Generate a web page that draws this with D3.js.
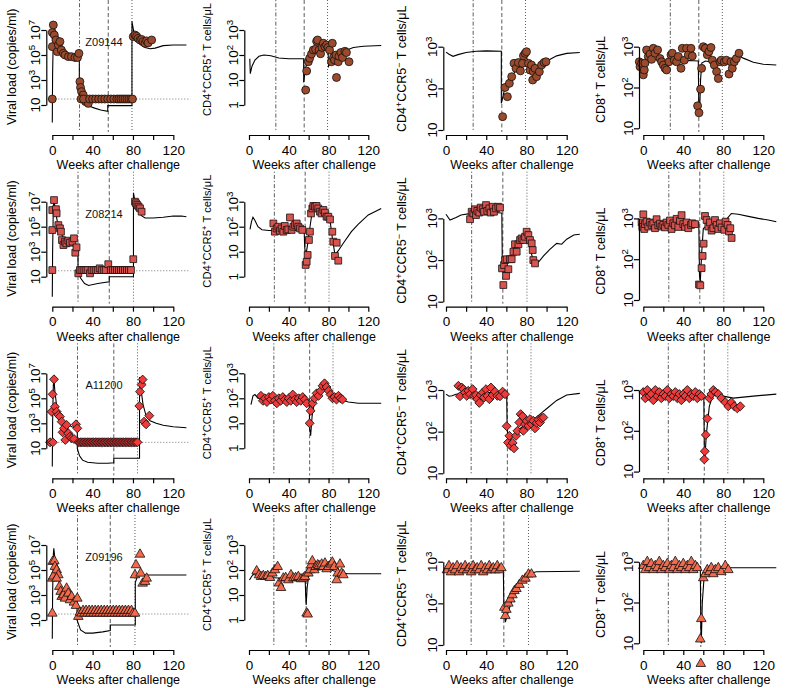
<!DOCTYPE html>
<html><head><meta charset="utf-8">
<script src="https://cdn.jsdelivr.net/npm/d3@7"></script>
<style>body{margin:0;background:#fff} svg{display:block} text{font-family:"Liberation Sans",Arial,Helvetica,sans-serif}</style>
</head><body><svg id="c" width="787" height="688"></svg>
<script>
// ---------- DATA (weeks after challenge, log10 value) ----------
const animals = ["Z09144","Z08214","A11200","Z09196"];
const eventWeeks = [[27,55.5,79],[25.5,56.5,80.5],[25,61,84.5],[25,57.5,82]];
const detectionLimit = 30; // copies/ml

const vlZ09144 = [[0,6.8],[1,7.4],[2,6.6],[0,5.67],[3.6,6.2],[5,5.27],[6,5.8],[7.6,6.07],[9,5.4],[11,5.13],[12.6,5.0],[16,4.87],[19,4.87],[22.5,4.8],[25,4.8],[26.4,5.13],[0,1.48],
 [27.4,2.87],[28,2.4],[29,2.07],[30.7,1.8],[33,1.27],[35.7,1.13],[28.5,1.48],[31,1.48],[37,1.48],[40,1.48],[43,1.48],[46,1.48],[49,1.48],[52,1.48],[55,1.48],[58,1.48],[61,1.48],[64,1.48],[66,1.48],[68,1.48],[70,1.48],[72,1.48],[74,1.48],[76,1.48],[78,1.48],[79.5,1.48],
 [80.3,6.47],[82,6.6],[83.6,6.5],[85,6.33],[87,6.2],[88.6,6.25],[90,6.07],[92,5.93],[93.5,6.13],[95,5.97],[98.5,6.2]];
const vlZ09144Fit = [[0,-0.4],[0.3,3.5],[1,6.5],[1.8,7.3],[3,6.6],[5,5.8],[8,5.2],[12,4.95],[18,4.85],[26.8,4.75],[26.8,3.0],[28,2.2],[30,1.6],[33,1.2],[37,0.9],[42,0.75],[48,0.6],[55,0.5],[55,0.95],[79,0.95],[79,7.7],[80.5,7.0],[83,6.3],[87,5.85],[92,5.6],[97,5.5],[102,5.55],[110,5.75],[120,5.8],[133,5.8]];
const r5pZ09144 = [[57,0.6],[58,1.36],[59.7,1.73],[61,1.87],[62.9,2.04],[64.7,2.2],[67,2.23],[68,2.55],[69,2.6],[70.5,2.2],[72,2.05],[73.5,2.3],[74.8,2.47],[76.4,2.33],[78,2.4],[79.5,2.3],[81,2.2],[83.8,2.47],[83,1.73],[85,1.9],[86,1.8],[87.6,2.0],[88,1.1],[89.8,1.73],[90.5,1.95],[92.5,2.1],[94,1.9],[96.5,2.15],[98,2.1],[100.6,1.73]];
const r5pZ09144Fit = [[0.8,1.85],[1.3,1.25],[3,1.55],[6,1.8],[10,1.95],[15,2.0],[22,1.97],[30,1.88],[40,1.85],[55,1.85],[55,0.9],[57,1.5],[60,1.9],[64,2.15],[70,2.28],[76,2.32],[79.5,2.25],[80,1.55],[83,1.75],[88,1.95],[95,2.15],[105,2.3],[115,2.35],[133,2.38]];
const r5nZ09144 = [[56.3,1.32],[58.7,2.02],[61,1.8],[63,2.12],[65.3,2.28],[67.6,2.6],[69.6,2.48],[72,2.62],[74,2.42],[76,2.6],[77,2.78],[78.6,2.84],[80,2.88],[82,2.6],[83.5,2.44],[85,2.56],[86.8,2.4],[86.2,2.2],[88.5,2.48],[90,2.28],[92.8,2.4],[95,2.56],[97.5,2.62],[99.4,2.64]];
const r5nZ09144Fit = [[0,2.87],[3,2.82],[7,2.77],[12,2.81],[20,2.86],[30,2.89],[40,2.9],[55,2.89],[55,1.64],[58,1.95],[62,2.2],[67,2.35],[72,2.5],[77,2.68],[80,2.75],[83,2.55],[87,2.45],[92,2.5],[100,2.65],[110,2.78],[120,2.84],[133,2.86]];
const cd8Z09144 = [[-4,2.63],[-3.3,2.51],[-1.7,2.59],[0,2.31],[1,2.43],[1.7,2.6],[3.3,2.92],[5,2.76],[6.7,2.82],[8.3,2.69],[10,2.96],[11.7,2.84],[14.3,2.92],[16.7,2.71],[18.3,2.63],[20,2.55],[21.7,2.47],[23.3,2.43],[25.7,2.63],[27.7,2.8],[29,2.84],[31,2.67],[33.3,2.63],[35,2.76],[37.7,2.47],[39,2.96],[41,2.67],[43.3,2.96],[45,2.8],[47.7,2.96],[49,2.77],
 [54.3,1.55],[55.7,1.38],[57.3,1.96],[58.3,2.47],[60,3.0],[62,2.96],[64,2.8],[65.7,2.88],[67.7,2.98],[69,2.67],[71,2.55],[73.3,2.39],[75,2.22],[76.7,2.63],[78,2.67],[81,2.63],[83,2.67],[85.7,2.33],[87.7,2.63],[89,2.47],[91,2.63],[93,2.71],[95.7,2.84]];
const cd8Z09144Fit = [[-5,2.63],[0,2.65],[10,2.7],[20,2.65],[30,2.65],[45,2.66],[55,2.65],[55.5,1.5],[56.3,1.37],[57.3,2.2],[58.5,2.6],[62,2.65],[70,2.62],[80,2.63],[88,2.7],[95,2.78],[100,2.72],[110,2.62],[120,2.57],[133,2.55]];

const vlZ08214 = [[1.7,7.13],[0,6.33],[3.6,6.4],[4.3,6.07],[0,4.73],[0,1.53],[6,5.13],[7.6,4.87],[8.6,4.6],[9.6,3.93],[11,3.53],[12.6,3.8],[14,3.67],[15.9,3.88],[17.5,3.72],[20,3.8],[21.5,4.07],[22.8,2.92],[24,3.35],[25.8,1.27],[27.4,1.53],[29,1.53],[31,1.53],[33,1.53],[35,1.53],[37.4,1.27],[39,1.53],[41,1.53],[43,1.53],[45,1.53],[47,1.67],[49,1.53],[51,1.53],[53,1.53],[55.5,2.0],[58,1.53],[60,1.53],[62,1.53],[64,1.53],[66,1.53],[68,1.53],[70,1.53],[72,1.53],[74,1.53],[76,1.53],[78,1.53],[80.3,2.4],[82,7.0],[83,6.87],[84.3,6.73],[85.6,6.6],[87,6.47],[88.6,6.2]];
const vlZ08214Fit = [[0,-0.6],[0.3,3],[1,6.5],[1.7,7.2],[3,6.3],[5,5.4],[8,4.6],[11,4.1],[15,3.8],[20,3.5],[25.5,3.0],[25.5,1.5],[28,0.9],[32,0.45],[36,0.3],[45,0.45],[56.5,0.6],[56.5,1.0],[80.5,1.0],[80.5,7.7],[82,7.0],[85,6.3],[88,5.9],[92,5.7],[100,5.7],[110,5.75],[120,5.85],[128,5.85],[133,5.8]];
const r5pZ08214 = [[24.5,2.13],[26,1.8],[27.8,1.93],[29.5,2.0],[31,1.84],[32.8,1.93],[34.5,1.8],[36,2.03],[37.9,1.87],[39.5,1.89],[41.2,2.37],[42.9,1.87],[44.6,2.0],[46.3,2.07],[48,2.13],[49.6,2.0],[51.3,1.93],[53.6,1.87],
 [57,0.47],[58,0.6],[59,0.87],[60.3,1.47],[61.3,1.8],[62.4,2.53],[63.7,2.73],[64.7,2.83],[66.4,2.8],[68,2.83],[69.7,2.73],[71.4,2.6],[73,2.53],[74.8,2.67],[76.4,2.56],[78,2.4],[79.8,2.4],[81.5,2.29],[83.8,1.8],[84.8,1.4],[86.5,0.83],[88.2,1.36],[89.8,0.64]];
const r5pZ08214Fit = [[1,1.89],[2.5,2.2],[4,2.38],[6,2.25],[9,2.0],[13,1.88],[20,1.85],[30,1.85],[45,1.86],[55.5,1.85],[56,1.2],[57,0.8],[59,1.3],[61,1.9],[63,2.45],[66,2.75],[70,2.8],[75,2.7],[80,2.5],[82,2.1],[84,1.5],[86.5,0.87],[90,1.05],[95,1.35],[103,1.8],[110,2.1],[120,2.47],[133,2.73]];
const r5nZ08214 = [[23.9,2.98],[25.5,3.16],[27.2,3.12],[28.8,3.22],[29.8,3.08],[31.2,3.18],[33.1,3.14],[34.5,3.26],[36.5,3.22],[37.8,3.16],[39.8,3.32],[41.1,3.18],[43.1,3.24],[44.4,3.14],[46.4,3.28],[47.7,3.16],[49.7,3.24],[52,3.28],[53.7,3.26],
 [55.7,1.8],[57,1.4],[57.7,1.88],[58.7,2.0],[59.7,1.62],[60.3,2.02],[62,1.78],[63.6,2.02],[65.3,2.02],[67,2.2],[68.6,2.38],[70.3,2.2],[72,2.38],[73.6,2.48],[75.2,2.52],[77,2.48],[78.6,2.56],[80.2,2.68],[81.9,2.6],[83.5,2.48],[85.2,2.4],[86.2,2.24],[86.8,2.0],[88.5,1.92]];
const r5nZ08214Fit = [[0,3.1],[4,2.96],[10,3.02],[15,3.08],[25,3.12],[35,3.14],[45,3.14],[55.5,3.13],[56,1.85],[57.5,1.6],[59,1.75],[61,1.95],[64,2.05],[68,2.3],[74,2.45],[80,2.6],[83,2.35],[86,2.05],[88,1.92],[92,1.95],[97,2.1],[103,2.25],[110,2.4],[115,2.38],[120,2.5],[127,2.6],[133,2.62]];
const cd8Z08214 = [[-1.7,2.9],[-1,2.79],[0,3.1],[1,2.74],[1.7,2.86],[3.3,2.92],[5,2.8],[6.7,2.9],[8.3,2.84],[10,2.88],[11.7,2.76],[13.3,2.98],[15,2.83],[16.7,2.87],[18.3,2.8],[20,2.84],[21.7,2.78],[23.3,2.9],[25,2.84],[26.7,2.95],[28.3,2.74],[30,2.88],[31.7,2.83],[33.3,2.99],[35,2.79],[36.7,2.94],[38.3,3.08],[40,2.86],[41.7,2.79],[43.3,2.9],[45,2.76],[47.7,2.84],[49,2.88],[51.7,2.86],
 [55.7,1.38],[57,1.36],[58.3,1.78],[59.3,2.08],[60.3,2.38],[61.7,3.06],[63.3,2.96],[65,2.8],[66.7,2.9],[68.3,2.7],[70,2.76],[71.7,2.96],[73.3,2.84],[75,2.74],[76.7,2.88],[78.3,2.78],[81,2.72],[82.3,2.92],[84.3,2.84],[85.7,2.68],[87,2.76],[88.3,2.52]];
const cd8Z08214Fit = [[-5.5,1.0],[-5,2.92],[0,2.92],[10,2.93],[20,2.92],[30,2.9],[45,2.9],[55.5,2.9],[56.2,1.6],[57,1.44],[58.5,2.2],[60,2.75],[65,2.85],[75,2.85],[80,2.85],[84,3.0],[88,3.12],[95,3.1],[105,3.05],[115,3.0],[125,2.96],[133,2.92]];

const vlA11200 = [[1.7,6.52],[0.3,5.32],[-0.7,3.93],[-2.3,1.48],[0.5,1.48],[2.6,4.33],[4.3,3.93],[6,3.67],[7.6,3.53],[9.3,3.13],[10.2,2.28],[11.6,2.6],[12.9,1.67],[14.2,2.87],[15.9,2.2],[17.5,1.93],[19.2,1.8],[21.5,1.75],[23.5,2.92],[24.8,2.6],
 [26,1.48],[27.5,1.48],[29,1.48],[30.5,1.48],[32,1.48],[33.5,1.48],[35,1.48],[36.5,1.48],[38,1.48],[39.5,1.48],[41,1.48],[42.5,1.48],[44,1.48],[45.5,1.48],[47,1.48],[48.5,1.48],[50,1.48],[51.5,1.48],[53,1.48],[54.5,1.48],[56,1.48],[57.5,1.48],[59,1.48],[60.5,1.48],[62,1.48],[63.5,1.48],[65,1.48],[66.5,1.48],[68,1.48],[69.5,1.48],[71,1.48],[72.5,1.48],[74,1.48],[75.5,1.48],[77,1.48],[78.5,1.48],[80,1.48],[81.5,1.48],[83,1.48],[84.5,1.48],
 [86.3,4.39],[87,5.53],[88.6,6.1],[89.6,6.5],[91,3.13],[93,2.92],[96.2,3.61]];
const vlA11200Fit = [[0,-0.45],[0.3,3],[1,6.0],[1.6,6.6],[2.5,5.6],[4,4.6],[6,3.9],[10,3.3],[15,2.9],[20,2.7],[24.8,2.6],[24.8,1.0],[27,0.4],[30,0.05],[35,-0.12],[45,-0.2],[55,-0.2],[61,-0.15],[61,0.2],[86.5,0.2],[86.5,6.7],[87.5,6.0],[90,4.5],[93,3.6],[97,3.2],[103,3.0],[110,2.85],[120,2.73],[133,2.65]];
const r5pA11200 = [[12,2.1],[14,1.9],[16,2.0],[18,1.85],[20,2.05],[22,1.95],[24,2.1],[26,1.9],[28,1.8],[30,2.0],[32,1.9],[34,2.05],[36,1.95],[38,1.85],[40,2.0],[42,1.9],[44,2.15],[46,1.95],[48,1.85],[50,2.0],[52,1.9],[54,2.05],[56,1.95],[58,1.8],
 [61,1.0],[62,1.5],[64,1.8],[66,2.0],[68,2.2],[70,2.1],[72,2.3],[74,2.5],[76,2.6],[78,2.45],[80,2.3],[82,2.15],[84,2.0],[86,2.05],[88,1.95],[90,2.1],[92,2.0],[94,1.95]];
const r5pA11200Fit = [[2,1.75],[4,2.1],[6,2.15],[9,2.0],[15,1.95],[30,1.95],[50,1.95],[60.5,1.95],[61,0.8],[62,0.5],[63.5,1.3],[66,1.9],[70,2.2],[75,2.45],[78,2.55],[82,2.3],[86,2.1],[92,1.95],[100,1.85],[110,1.8],[133,1.8]];
const r5nA11200 = [[12.3,3.1],[13.9,2.85],[15.6,3.06],[17.2,3.02],[18.9,2.94],[20.6,2.86],[22.2,2.98],[23.9,2.9],[26.5,3.02],[27.8,2.86],[29.8,2.88],[31.2,2.78],[33.1,2.69],[34.5,2.88],[36.5,2.94],[37.8,2.82],[39.8,3.02],[41.1,2.86],[43.1,2.78],[44.7,3.06],[46.4,2.88],[48.7,2.96],[51,2.86],[53.7,2.85],[56.3,2.96],[58.7,2.9],
 [60.3,2.13],[61.7,1.74],[63,1.9],[64.3,1.66],[66.3,1.73],[67.6,1.6],[69.6,1.9],[71,2.02],[72.9,2.22],[74.2,2.42],[76.2,2.37],[76.9,2.02],[78.6,2.18],[80.2,2.26],[81.9,2.14],[83.5,2.3],[85.2,2.18],[86.8,2.26],[88.5,2.08],[90.2,2.21],[91.8,2.29],[93.5,2.22],[95.1,2.32],[96.8,2.34]];
const r5nA11200Fit = [[0,2.9],[3,2.85],[6,2.86],[10,2.9],[20,2.93],[40,2.94],[60.3,2.94],[60.8,2.1],[62,1.75],[65,1.85],[70,2.0],[75,2.1],[80,2.2],[85,2.25],[90,2.35],[95,2.45],[100,2.55],[110,2.75],[120,2.88],[133,2.92]];
const cd8A11200 = [[0,2.95],[2,2.8],[4,3.0],[6,2.85],[8,2.9],[10,2.75],[12,3.0],[14,2.85],[16,2.95],[18,2.8],[20,2.9],[22,2.85],[24,3.0],[26,2.8],[28,2.9],[30,2.85],[32,2.95],[34,2.8],[36,2.9],[38,2.75],[40,2.9],[42,2.85],[44,3.0],[46,2.8],[48,2.9],[50,2.85],[52,2.95],[54,2.8],[56,2.9],[58,2.85],
 [61,1.3],[61.5,1.5],[62.5,1.9],[64,2.3],[66,2.8],[68,2.9],[70,3.0],[72,2.95],[75,2.9],[78,2.8],[82,2.7],[85,2.6],[88,2.7],[91,2.6],[94,2.55],[97,2.6]];
const cd8A11200Fit = [[0,2.9],[20,2.9],[40,2.88],[60.5,2.88],[61,1.6],[61.5,1.3],[63,1.9],[66,2.6],[70,2.9],[75,2.95],[80,2.85],[90,2.8],[110,2.85],[133,2.9]];

const vlZ09196 = [[0.3,5.67],[2,5.72],[0,4.33],[0,1.53],[1,4.5],[2.6,5.27],[4.3,5.0],[6,4.6],[4.3,4.33],[7,3.67],[8.3,3.27],[9.3,2.87],[11,3.0],[12.6,2.73],[14.2,3.53],[15.9,3.13],[17.5,2.6],[19.2,2.87],[21.5,2.41],[23.5,2.15],[24.8,2.73],[25.8,1.27],[27.4,1.61],
 [29,1.53],[30.5,1.75],[32,1.53],[33.5,1.75],[35,1.53],[36.5,1.75],[38,1.53],[39.5,1.75],[41,1.53],[42.5,1.75],[44,1.53],[45.5,1.75],[47,1.53],[48.5,1.75],[50,1.53],[51.5,1.75],[53,1.53],[54.5,1.75],[56,1.53],[57.5,1.75],[59,1.53],[60.5,1.75],[62,1.53],[63.5,1.75],[65,1.53],[66.5,1.75],[68,1.53],[69.5,1.75],[71,1.53],[72.5,1.75],[74,1.53],[75.5,1.75],[77,1.53],[78.5,1.75],[80,1.53],
 [82,1.53],[82,4.6],[83,5.4],[87,6.25],[87.6,4.73],[89.6,3.93],[92,4.07],[93.6,4.33]];
const vlZ09196Fit = [[0,-0.5],[0.3,3],[1,6.2],[1.5,6.73],[2.5,6.0],[4,5.2],[7,4.0],[10,3.2],[15,2.8],[20,2.5],[24.5,2.3],[24.5,1.0],[28,0.2],[33,-0.05],[40,-0.05],[50,0.05],[57.5,0.15],[57.5,0.6],[82.3,0.6],[82.3,4.0],[84,4.4],[86,4.55],[90,4.6],[133,4.6]];
const r5pZ09196 = [[7.7,1.96],[10.1,1.8],[12.1,1.73],[14.4,1.77],[16.8,1.73],[18.8,1.77],[21.1,1.69],[23.5,1.87],[26.1,2.0],[28.8,2.13],[30.2,1.47],[32.2,1.29],[34.5,1.67],[36.9,1.69],[39.6,1.6],[42.2,1.8],[44.6,1.67],[46.9,1.69],[49.6,1.73],[52.3,1.64],[54.6,1.67],[56.3,1.73],
 [58,0.27],[59,0.23],[59.7,1.87],[61.3,2.0],[62.4,2.2],[63.7,2.36],[65.7,2.0],[67,2.13],[69.1,2.2],[70.4,2.17],[73.1,2.23],[74.8,2.13],[76.4,2.27],[78.1,2.04],[79.8,2.13],[82.5,2.23],[83.8,2.31],[85.8,2.13],[88.2,1.6],[89.2,1.87],[91.5,2.23],[93.2,1.87],[94.9,1.8]];
const r5pZ09196Fit = [[0.5,1.6],[2,1.7],[4,1.82],[7,1.8],[12,1.74],[20,1.7],[30,1.68],[45,1.65],[56.5,1.65],[57,1.0],[57.5,0.6],[58.5,1.3],[60,1.75],[63,1.9],[70,2.0],[80,2.05],[85,1.97],[92,1.88],[100,1.85],[133,1.85]];
const r5nZ09196 = [[1,2.8],[3,2.9],[5,2.75],[7,2.85],[9,2.8],[11,2.9],[13,2.75],[15,2.85],[17,2.8],[19,2.9],[21,2.8],[23,2.85],[25,2.75],[27,2.9],[29,2.8],[31,2.85],[33,2.8],[35,2.9],[37,2.75],[39,2.85],[41,2.8],[43,2.9],[45,2.8],[47,2.85],[49,2.8],[51,2.9],[53,2.8],[55,2.85],
 [58,1.9],[59,1.7],[60,1.85],[62,2.0],[64,2.1],[66,2.2],[68,2.3],[70,2.35],[73,2.45],[76,2.55],[79,2.6],[82,2.7],[85,2.7]];
const r5nZ09196Fit = [[0,2.8],[20,2.8],[40,2.82],[57,2.82],[57.5,2.0],[59,1.55],[62,1.8],[66,2.1],[70,2.3],[75,2.5],[80,2.65],[85,2.73],[90,2.76],[133,2.77]];
const cd8Z09196 = [[0,2.9],[2,2.8],[4,3.0],[6,2.85],[8,2.95],[10,2.8],[12,2.9],[14,2.85],[16,3.0],[18,2.8],[20,2.9],[22,2.85],[24,2.95],[26,2.8],[28,2.9],[30,2.85],[32,3.0],[34,2.8],[36,2.9],[38,2.85],[40,2.95],[42,2.8],[44,2.9],[46,2.85],[48,3.0],[50,2.8],[52,2.9],[54,2.85],
 [57,1.1],[57.5,0.5],[58,1.6],[60,2.6],[62,2.7],[64,2.8],[66,2.75],[68,2.85],[70,2.7],[72,2.8],[75,2.85],[78,2.75],[82,2.9],[85,2.8]];
const cd8Z09196Fit = [[0,2.9],[30,2.88],[57,2.88],[57.5,1.4],[58,1.0],[59,2.0],[61,2.7],[65,2.82],[75,2.85],[90,2.85],[133,2.85]];

// tick labels
const vlTicks = [1,3,5,7];       // exponents
const r5pTicks = [0,1,2,3];
const r5nTicks = [1,2,3];
const cd8Ticks = [1,2,3];
const xTicks = [0,20,40,60,80,100,120];
const xTickLabels = [0,40,80,120];
const xTitle = "Weeks after challenge";

// ---------- LAYOUT / STYLE ----------
const rowY = [0,171.7,343.3,515];
const rowColors = ["#9C4A2C","#D9534F","#EE3B3B","#F36B4C"];
const rowShapes = ["circle","square","diamond","triangle"];
const eventDash = ["1.2,2,4,2","4,2.5","1,2"];

const cols = [
  {x0:52.3, x120:173.3, axOff:6,   dom:[1e1,1e7], rng:[105,30],   ticks:vlTicks,
   title:[["Viral load (copies/ml)",0]], tx:16, ty:125, tfs:12.5},
  {x0:249,  x120:368.3, axOff:4.7, dom:[1,1e3],   rng:[105,30],   ticks:r5pTicks,
   title:[["CD4",0],["+",1],["CCR5",0],["+",1],[" T cells/\u03BCL",0]], tx:211, ty:116, tfs:11.2},
  {x0:446,  x120:566.7, axOff:2.7, dom:[10,1e3],  rng:[130,46.7], ticks:r5nTicks,
   title:[["CD4",0],["+",1],["CCR5",0],["\u2212",1],[" T cells/\u03BCL",0]], tx:406, ty:132, tfs:12.5},
  {x0:643.3,x120:763.3, axOff:4.3, dom:[10,1e3],  rng:[128.3,46.7], ticks:cd8Ticks,
   title:[["CD8",0],["+",1],[" T cells/\u03BCL",0]], tx:605, ty:123, tfs:12.5}
];

const panels = [
  [[vlZ09144,vlZ09144Fit],[r5pZ09144,r5pZ09144Fit],[r5nZ09144,r5nZ09144Fit],[cd8Z09144,cd8Z09144Fit]],
  [[vlZ08214,vlZ08214Fit],[r5pZ08214,r5pZ08214Fit],[r5nZ08214,r5nZ08214Fit],[cd8Z08214,cd8Z08214Fit]],
  [[vlA11200,vlA11200Fit],[r5pA11200,r5pA11200Fit],[r5nA11200,r5nA11200Fit],[cd8A11200,cd8A11200Fit]],
  [[vlZ09196,vlZ09196Fit],[r5pZ09196,r5pZ09196Fit],[r5nZ09196,r5nZ09196Fit],[cd8Z09196,cd8Z09196Fit]]
];

const svg = d3.select("#c");
const defs = svg.append("defs");
const FS = 12.5, TFS = 13.5;

function richText(sel, parts, shift, base){
  let up=false;
  parts.forEach(([t,s])=>{
    const ts = sel.append("tspan").text(t);
    if(s){ ts.attr("font-size",(base*0.72)+"px").attr("dy", up?0:-shift); up=true; }
    else { ts.attr("dy", up?shift:0); up=false; }
  });
}
function symbolFor(shape){
  if(shape==="circle") return d3.symbol(d3.symbolCircle,50)();
  if(shape==="square") return d3.symbol(d3.symbolSquare,46)();
  if(shape==="diamond") return d3.symbol(d3.symbolSquare,40)();
  return d3.symbol(d3.symbolTriangle,40)();
}

panels.forEach((row,r)=>{
  row.forEach(([obs,fit],c)=>{
    const cfg = cols[c];
    const g = svg.append("g").attr("transform",`translate(0,${rowY[r]})`);
    const x = d3.scaleLinear().domain([0,120]).range([cfg.x0,cfg.x120]);
    const y = d3.scaleLog().domain(cfg.dom).range(cfg.rng);
    const left = cfg.x0 - cfg.axOff, right = x(137);
    const cid = `clip${r}${c}`;
    defs.append("clipPath").attr("id",cid).append("rect")
      .attr("x",left).attr("y",0).attr("width",right-left).attr("height",132);

    eventWeeks[r].forEach((w,i)=>{
      g.append("line").attr("x1",x(w)).attr("x2",x(w)).attr("y1",0).attr("y2",132)
        .attr("stroke","#333").attr("stroke-width",0.8).attr("stroke-dasharray",eventDash[i]);
    });
    if(c===0){
      g.append("line").attr("x1",left).attr("x2",right).attr("y1",y(detectionLimit)).attr("y2",y(detectionLimit))
        .attr("stroke","#555").attr("stroke-width",0.8).attr("stroke-dasharray","1,2");
      g.append("text").attr("x",104).attr("y",46).attr("text-anchor","middle")
        .attr("font-size","11px").attr("fill","#111").text(animals[r]);
    }
    const line = d3.line().x(d=>x(d[0])).y(d=>y(Math.pow(10,d[1])));
    g.append("path").datum(fit).attr("d",line).attr("fill","none")
      .attr("stroke","#000").attr("stroke-width",1.1).attr("clip-path",`url(#${cid})`);
    const sym = symbolFor(rowShapes[r]);
    const rot = rowShapes[r]==="diamond" ? " rotate(45)" : "";
    g.append("g").selectAll("path").data(obs).join("path")
      .attr("transform",d=>`translate(${x(d[0])},${y(Math.pow(10,d[1]))})${rot}`)
      .attr("d",sym).attr("fill",rowColors[r]).attr("stroke","#111").attr("stroke-width",0.8);

    const xa = g.append("g").attr("transform","translate(0,135)")
      .call(d3.axisBottom(x).tickValues(xTicks).tickSize(5).tickSizeOuter(0).tickPadding(5)
        .tickFormat(d=>xTickLabels.includes(d)?d:""));
    xa.attr("font-size",null).attr("font-family",null);
    xa.selectAll("text").attr("font-size",TFS+"px").attr("fill","#000");
    xa.selectAll("path,line").attr("stroke","#000").attr("stroke-width",1.2);
    g.append("text").attr("x",x(65.5)).attr("y",169).attr("text-anchor","middle")
      .attr("font-size",FS+"px").text(xTitle);

    const tv = cfg.ticks.map(e=>Math.pow(10,e));
    const ya = g.append("g").attr("transform",`translate(${left},0)`)
      .call(d3.axisLeft(y).tickValues(tv).tickSize(5).tickSizeOuter(0).tickFormat(()=>""));
    ya.attr("font-size",null).attr("font-family",null);
    ya.selectAll("text").remove();
    ya.selectAll("path,line").attr("stroke","#000").attr("stroke-width",1.2);
    cfg.ticks.forEach(e=>{
      const t = g.append("text").attr("text-anchor","middle").attr("font-size",TFS+"px")
        .attr("transform",`translate(${left-6},${y(Math.pow(10,e))}) rotate(-90)`);
      if(e===0) t.text("1");
      else if(e===1) t.text("10");
      else richText(t,[["10",0],[String(e),1]],5.5,TFS);
    });
    const yt = g.append("text").attr("font-size",cfg.tfs+"px").attr("text-anchor","start")
      .attr("transform",`translate(${cfg.tx},${cfg.ty}) rotate(-90)`);
    richText(yt,cfg.title,4.2,cfg.tfs);
  });
});
</script></body></html>
